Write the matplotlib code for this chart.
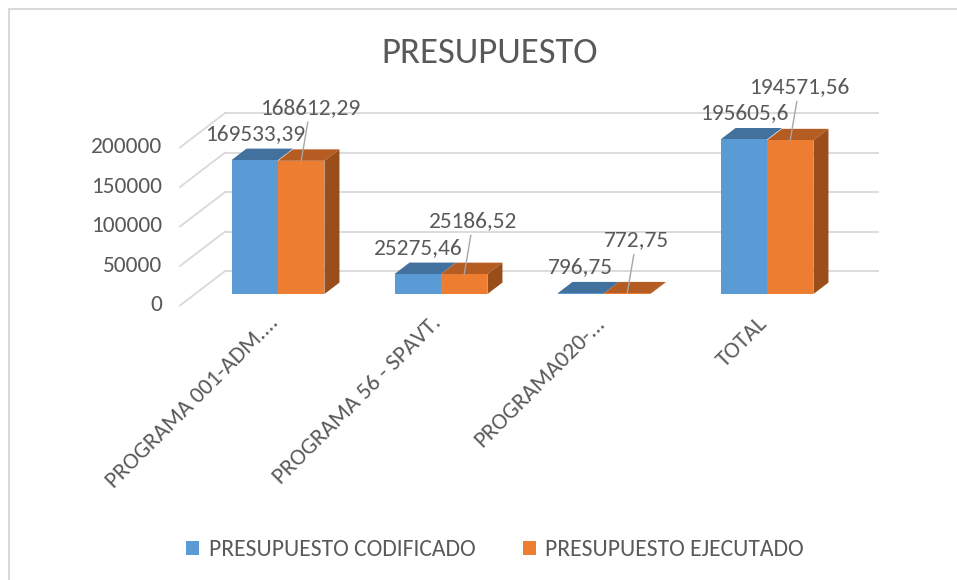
import numpy as np
import matplotlib
matplotlib.use("Agg")
import matplotlib.pyplot as plt
from matplotlib import font_manager
from matplotlib.patches import Polygon
from matplotlib.lines import Line2D

# data
categories = ["PROGRAMA 001-ADM....", "PROGRAMA 56 - SPAVT.", "PROGRAMA020-...", "TOTAL"]
codificado = [169533.39, 25275.46, 796.75, 195605.60]
ejecutado = [168612.29, 25186.52, 772.75, 194571.56]
codificado_txt = ["169533,39", "25275,46", "796,75", "195605,6"]
ejecutado_txt = ["168612,29", "25186,52", "772,75", "194571,56"]
series_names = ["PRESUPUESTO CODIFICADO", "PRESUPUESTO EJECUTADO"]
yticks = [0, 50000, 100000, 150000, 200000]

names = font_manager.get_font_names()
fam = "Carlito" if "Carlito" in names else "Lato"
plt.rcParams["font.family"] = [fam, "DejaVu Sans"]

TXT = "#595959"
GRID = "#d9d9d9"
BLUE, BLUE_TOP = "#5b9bd5", "#41719c"
ORANGE, ORANGE_TOP, ORANGE_SIDE = "#ed7d31", "#b45c22", "#9a4e1b"
FS = 16.8

fig = plt.figure(figsize=(9.57, 5.8), dpi=100)
ax = fig.add_axes([0, 0, 1, 1])
ax.set_xlim(-1.7055, 4.1656)
ax.set_ylim(-362025, 372152)
ax.axis("off")

W = 0.285      # width of one bar (category units)
DX, DY = 0.092, 14500   # 3d depth offset of a bar
x = np.arange(len(categories))
wall_l, wall_r = -0.325, 3.68

# back wall gridlines + floor diagonals
for v in yticks:
    ax.plot([wall_l, wall_r], [v + 2 * DY, v + 2 * DY], color=GRID, lw=1.3, zorder=1)
    ax.plot([wall_l - 3 * DX, wall_l], [v - DY, v + 2 * DY], color=GRID, lw=1.3, zorder=1)
    ax.text(wall_l - 3 * DX - 0.11, v - DY, str(v), ha="right", va="center",
            fontsize=FS, color=TXT)

# front faces
b1 = ax.bar(x - W / 2, codificado, W, color=BLUE, zorder=3, label=series_names[0])
b2 = ax.bar(x + W / 2, ejecutado, W, color=ORANGE, zorder=3, label=series_names[1])

# top and side faces
for i, (c, e) in enumerate(zip(codificado, ejecutado)):
    ax.add_patch(Polygon([(i - W, c), (i, c), (i + DX, c + DY), (i - W + DX, c + DY)],
                         closed=True, color=BLUE_TOP, lw=0, zorder=2))
    ax.add_patch(Polygon([(i, e), (i + W, e), (i + W + DX, e + DY), (i + DX, e + DY)],
                         closed=True, color=ORANGE_TOP, lw=0, zorder=2))
    ax.add_patch(Polygon([(i + W, 0), (i + W, e), (i + W + DX, e + DY), (i + W + DX, DY)],
                         closed=True, color=ORANGE_SIDE, lw=0, zorder=2))

# data labels
for i in range(len(categories)):
    ax.annotate(codificado_txt[i], (i - W / 2, codificado[i]), xytext=(0, 26),
                textcoords="offset pixels", ha="center", va="center",
                fontsize=FS, color=TXT, zorder=5)
    ax.annotate(ejecutado_txt[i], (i + W / 2, ejecutado[i]), xytext=(9, 53),
                textcoords="offset pixels", ha="center", va="center",
                fontsize=FS, color=TXT, zorder=5,
                arrowprops=dict(arrowstyle="-", color="#a6a6a6", lw=1.0,
                                shrinkA=1, shrinkB=0))

# category labels
for i, lab in enumerate(categories):
    ax.text(i + 0.01, -38000, lab, rotation=45, rotation_mode="anchor",
            ha="right", va="baseline", fontsize=FS, color=TXT)

fig.text(490 / 957, 1 - 53 / 580, "PRESUPUESTO", ha="center", va="center",
         fontsize=26.5, color=TXT)

leg = ax.legend(handles=[b1, b2], loc="center", ncol=2,
                bbox_to_anchor=(495 / 957, 1 - 550 / 580), frameon=False,
                fontsize=17, handlelength=0.55, handleheight=0.55,
                handletextpad=0.4, columnspacing=2.0)
for t in leg.get_texts():
    t.set_color(TXT)

# chart border
fig.add_artist(Line2D([9 / 957, 9 / 957], [0, 1 - 9 / 580], color=GRID, lw=1.5))
fig.add_artist(Line2D([9 / 957, 1], [1 - 9 / 580, 1 - 9 / 580], color=GRID, lw=1.5))

fig.savefig("out.png", dpi=100)
